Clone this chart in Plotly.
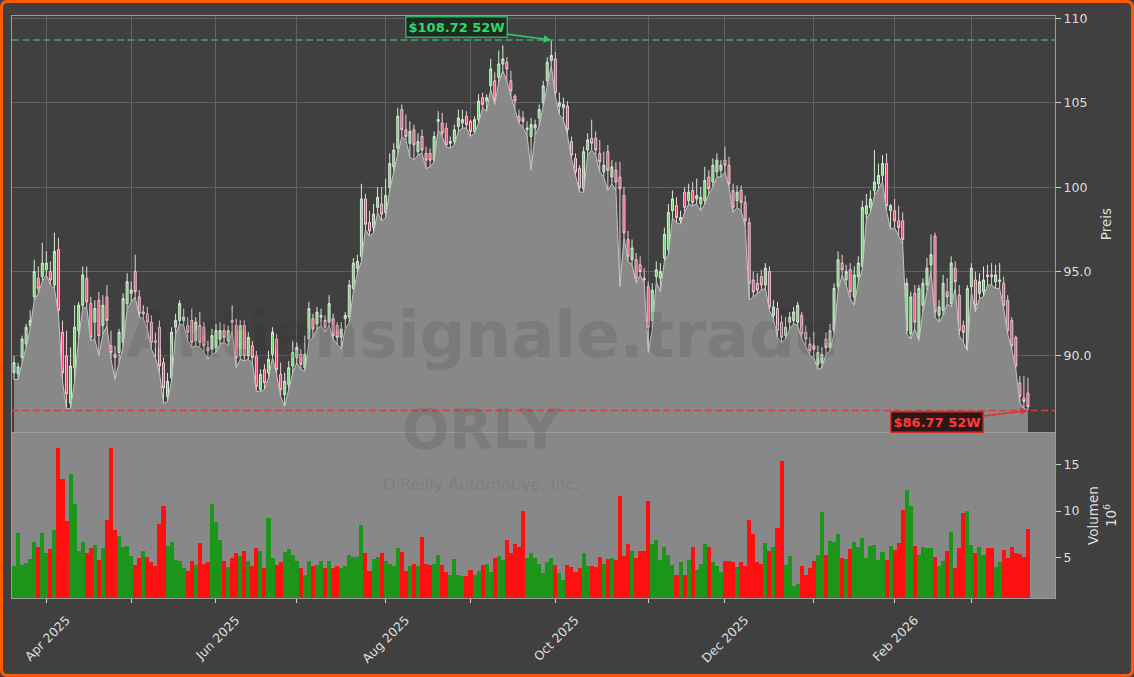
import pandas as pd
import plotly.graph_objects as go

# ---------------- data ----------------
holidays = ["2025-04-18", "2025-05-26", "2025-06-19", "2025-07-04", "2025-09-01",
            "2025-11-27", "2025-12-25", "2026-01-01", "2026-01-19", "2026-02-16"]
dates = [d.strftime("%Y-%m-%d") for d in pd.bdate_range("2025-03-20", "2026-03-20")
         if d.strftime("%Y-%m-%d") not in holidays]

open_ = [
    89.0, 88.95, 89.9, 90.7, 91.8, 93.5, 94.6, 94.7, 95.1, 95.0,
    94.2, 96.3, 91.4, 90.0, 87.2, 89.3, 91.5, 93.0, 94.6, 93.1,
    92.0, 93.3, 91.8, 93.5, 90.6, 90.1, 90.2, 90.8, 93.1, 93.7,
    95.0, 93.5, 92.5, 92.5, 92.0, 90.9, 91.7, 89.6, 87.6, 88.7,
    91.7, 92.1, 92.1, 91.8, 92.1, 90.9, 91.8, 91.7, 90.5, 90.4,
    90.5, 91.0, 91.5, 90.9, 92.1, 91.8, 90.0, 91.8, 90.0, 90.6,
    90.0, 88.0, 89.2, 89.0, 90.1, 91.0, 88.9, 87.7, 88.3, 89.4,
    89.9, 90.1, 89.3, 91.0, 92.2, 91.9, 92.3, 92.1, 92.0, 92.2,
    91.8, 91.1, 92.2, 92.3, 94.0, 95.2, 95.9, 99.3, 97.9, 97.6,
    98.8, 99.0, 98.5, 100.0, 101.2, 102.3, 104.6, 103.4, 102.6, 103.4,
    102.1, 103.0, 102.0, 102.0, 101.6, 103.9, 103.8, 103.5, 102.6, 102.7,
    103.6, 103.8, 104.2, 103.9, 103.3, 104.0, 105.3, 105.1, 106.0, 106.3,
    106.5, 107.3, 107.4, 106.3, 105.4, 104.2, 104.1, 103.4, 103.0, 103.5,
    104.1, 105.0, 106.3, 107.5, 107.6, 104.8, 104.7, 104.8, 102.7, 101.7,
    101.1, 99.9, 102.2, 102.9, 102.9, 102.0, 100.9, 102.1, 100.6, 101.0,
    100.6, 99.5, 96.9, 95.7, 95.7, 95.4, 94.6, 94.1, 92.1, 94.7,
    94.6, 95.8, 96.3, 98.6, 98.9, 98.0, 99.7, 99.2, 99.8, 99.3,
    99.0, 99.2, 100.6, 100.3, 100.9, 101.0, 101.6, 101.3, 99.8, 99.2,
    99.8, 99.1, 97.9, 94.5, 94.3, 94.7, 94.2, 95.0, 92.4, 92.8,
    92.0, 91.2, 92.0, 92.1, 92.0, 92.4, 91.4, 90.7, 90.6, 89.5,
    89.6, 91.0, 90.5, 91.5, 94.1, 95.5, 94.5, 95.1, 93.5, 94.7,
    95.3, 98.4, 98.8, 99.8, 100.2, 100.7, 101.4, 98.6, 98.6, 98.0,
    98.0, 91.5, 91.3, 93.7, 91.1, 93.0, 94.2, 95.4, 97.1, 92.4,
    92.7, 93.8, 93.1, 95.2, 93.6, 91.8, 90.4, 94.1, 94.5, 93.7,
    93.8, 94.8, 94.8, 94.4, 94.4, 94.3, 93.3, 92.1, 91.1, 88.4,
    87.5, 87.8]

high = [
    90.0, 89.6, 91.2, 91.9, 92.7, 95.7, 95.3, 96.7, 96.2, 95.6,
    97.3, 97.0, 92.1, 91.5, 90.5, 93.0, 93.2, 95.3, 95.3, 93.5,
    93.3, 93.8, 93.6, 94.2, 91.5, 90.6, 91.6, 93.7, 94.9, 94.4,
    96.0, 93.9, 93.0, 92.9, 92.4, 91.4, 92.1, 89.9, 89.0, 91.7,
    92.5, 93.3, 92.8, 92.3, 92.8, 92.3, 92.6, 92.0, 90.9, 91.6,
    91.9, 92.0, 91.9, 91.8, 93.0, 92.2, 92.1, 92.1, 91.4, 90.9,
    90.3, 89.2, 89.5, 90.3, 91.7, 91.3, 89.6, 89.0, 89.7, 90.9,
    90.8, 90.4, 91.2, 93.2, 92.5, 92.9, 92.8, 92.4, 93.6, 92.5,
    92.0, 92.0, 92.6, 94.5, 95.8, 96.0, 100.2, 99.6, 98.6, 99.0,
    100.0, 100.0, 100.5, 102.0, 102.6, 104.7, 104.9, 104.3, 103.9, 103.7,
    103.2, 103.4, 102.4, 102.3, 103.3, 104.5, 104.4, 103.8, 103.0, 103.7,
    104.6, 104.6, 104.5, 104.0, 104.2, 105.5, 105.6, 105.5, 107.6, 106.8,
    108.1, 108.4, 107.7, 106.9, 105.5, 104.6, 104.5, 103.9, 104.1, 104.0,
    104.9, 106.3, 107.7, 108.72, 108.0, 105.6, 105.3, 105.1, 103.0, 102.0,
    101.3, 102.4, 103.2, 104.0, 103.3, 102.8, 102.1, 102.5, 101.6, 101.5,
    101.5, 100.0, 97.4, 96.9, 96.1, 95.9, 95.2, 94.4, 94.3, 95.6,
    95.5, 97.6, 99.0, 99.8, 99.4, 98.6, 100.0, 100.2, 100.3, 100.5,
    100.0, 101.2, 101.0, 101.7, 102.0, 101.6, 102.4, 101.8, 100.2, 100.1,
    100.1, 99.5, 98.2, 95.0, 94.9, 95.1, 95.5, 95.3, 93.3, 93.2,
    92.4, 92.3, 92.6, 92.9, 93.2, 92.6, 91.8, 91.1, 91.4, 90.6,
    90.5, 91.4, 91.9, 94.3, 96.2, 96.0, 95.4, 95.5, 95.3, 95.9,
    99.2, 99.6, 99.8, 102.2, 101.4, 101.9, 102.0, 99.0, 99.3, 98.9,
    98.5, 94.6, 93.8, 94.2, 94.2, 94.6, 95.8, 97.2, 97.3, 93.3,
    94.8, 94.6, 95.9, 95.6, 94.2, 92.1, 94.2, 95.5, 95.0, 94.9,
    95.3, 95.4, 95.5, 95.4, 95.5, 94.7, 93.6, 92.3, 91.2, 88.8,
    88.8, 88.7]

low = [
    88.6, 88.6, 89.6, 90.5, 91.6, 93.3, 93.7, 94.4, 94.8, 94.2,
    94.0, 92.5, 88.5, 86.85, 86.9, 88.5, 91.0, 92.8, 92.9, 90.9,
    91.0, 90.0, 91.3, 91.8, 89.8, 88.6, 89.6, 90.5, 92.8, 93.2,
    93.5, 92.3, 92.2, 91.6, 90.4, 89.9, 89.0, 87.2, 87.3, 88.5,
    91.3, 91.9, 91.8, 90.9, 90.5, 90.6, 90.5, 90.2, 89.8, 90.1,
    90.2, 90.7, 90.8, 90.6, 91.5, 89.3, 89.8, 89.7, 89.8, 89.6,
    87.9, 87.9, 88.0, 88.7, 89.9, 88.9, 87.6, 87.0, 88.0, 89.0,
    89.6, 89.2, 89.1, 90.8, 91.1, 91.6, 91.8, 91.4, 91.8, 91.0,
    90.7, 90.4, 91.6, 92.0, 93.8, 94.9, 95.6, 97.5, 97.1, 97.3,
    98.5, 98.0, 98.2, 99.8, 100.9, 102.0, 103.0, 102.8, 101.8, 101.6,
    101.9, 102.0, 101.1, 101.2, 101.5, 103.4, 103.0, 102.4, 102.3, 102.5,
    103.3, 103.5, 103.5, 103.0, 103.2, 103.8, 104.7, 104.5, 105.8, 104.9,
    106.2, 106.9, 106.3, 105.4, 104.6, 103.8, 103.5, 103.1, 101.0, 103.1,
    103.6, 104.8, 106.0, 107.2, 105.4, 104.3, 104.0, 103.1, 101.7, 100.6,
    99.7, 99.7, 101.9, 102.2, 101.9, 100.9, 100.6, 99.8, 100.2, 99.8,
    94.1, 97.0, 95.6, 95.4, 94.3, 94.8, 94.3, 90.2, 91.6, 94.4,
    93.8, 95.6, 96.0, 98.2, 97.9, 97.8, 98.5, 99.0, 98.9, 99.0,
    98.6, 99.0, 99.6, 100.0, 100.6, 100.6, 100.9, 100.0, 98.5, 98.8,
    98.6, 97.7, 93.3, 93.5, 93.7, 93.9, 94.0, 92.7, 92.2, 91.1,
    90.8, 91.0, 91.6, 91.9, 91.8, 91.0, 90.6, 90.0, 89.9, 89.2,
    89.3, 90.1, 90.3, 91.3, 93.9, 94.8, 94.2, 93.4, 93.0, 94.4,
    95.1, 98.1, 98.5, 99.5, 99.9, 100.3, 98.6, 97.5, 97.6, 97.1,
    96.6, 91.3, 91.0, 91.6, 90.9, 92.6, 93.9, 95.0, 92.3, 92.0,
    92.4, 93.1, 92.9, 94.0, 91.2, 90.8, 90.3, 93.8, 92.6, 93.4,
    93.5, 94.2, 94.2, 94.0, 94.0, 92.8, 91.3, 90.4, 89.2, 87.2,
    86.9, 86.77]

close = [
    89.6, 89.35, 91.0, 91.7, 92.1, 95.0, 94.0, 95.5, 95.5, 94.5,
    96.2, 92.7, 89.0, 87.75, 89.4, 91.7, 93.0, 94.8, 93.2, 91.1,
    92.8, 91.2, 93.0, 92.1, 90.2, 89.9, 91.4, 93.4, 94.4, 93.9,
    93.8, 92.5, 92.6, 92.0, 90.8, 90.8, 89.4, 88.1, 88.5, 91.4,
    92.1, 93.1, 92.3, 91.4, 90.8, 92.0, 90.8, 90.6, 90.3, 91.2,
    91.5, 91.5, 91.1, 91.5, 92.0, 89.9, 91.8, 90.0, 91.1, 89.9,
    88.2, 88.9, 88.4, 89.8, 91.4, 89.2, 88.0, 88.5, 89.3, 90.2,
    90.5, 89.5, 90.1, 92.8, 91.6, 92.6, 92.4, 91.7, 93.1, 91.2,
    91.1, 91.6, 92.4, 94.2, 95.5, 95.6, 99.3, 97.8, 97.4, 98.4,
    99.4, 98.4, 99.5, 101.4, 102.2, 104.2, 103.4, 103.0, 103.3, 102.5,
    102.7, 102.2, 101.6, 101.6, 103.0, 104.0, 103.2, 102.5, 102.7, 103.4,
    104.1, 104.0, 103.7, 103.3, 104.0, 105.1, 104.9, 105.3, 107.0, 105.2,
    107.3, 107.6, 107.0, 105.7, 105.1, 103.9, 103.9, 103.5, 103.7, 103.7,
    104.6, 106.0, 107.4, 107.8, 105.6, 105.0, 104.9, 103.4, 101.9, 100.9,
    100.0, 102.1, 102.8, 102.6, 102.2, 101.5, 101.3, 101.0, 101.2, 100.3,
    99.9, 97.3, 95.9, 96.4, 94.6, 95.0, 94.5, 91.7, 93.9, 95.1,
    95.0, 97.2, 98.5, 99.3, 98.2, 98.2, 98.8, 99.7, 99.1, 99.5,
    99.4, 100.4, 99.9, 101.3, 101.6, 101.3, 101.3, 100.2, 98.8, 99.7,
    99.1, 98.0, 94.3, 93.8, 93.9, 94.2, 95.2, 92.9, 92.9, 91.5,
    91.1, 91.7, 92.3, 92.6, 93.0, 91.3, 91.0, 90.3, 90.4, 90.2,
    90.1, 90.5, 91.5, 94.0, 95.7, 95.1, 95.0, 93.8, 94.8, 95.5,
    98.8, 98.9, 99.3, 100.3, 100.7, 101.4, 98.9, 98.9, 98.0, 97.6,
    96.9, 94.3, 93.5, 92.0, 94.0, 94.3, 95.2, 96.0, 92.6, 92.9,
    94.3, 93.5, 95.5, 94.4, 91.5, 91.4, 94.0, 95.2, 93.0, 94.4,
    94.5, 94.7, 94.7, 94.8, 94.5, 93.0, 91.5, 90.6, 89.4, 87.6,
    87.3, 87.0]

volume = [  # millions
    4.1, 7.7, 4.2, 4.4, 4.9, 6.7, 6.1, 7.6, 5.5, 5.9,
    8.0, 16.7, 13.4, 8.9, 14.0, 10.7, 5.7, 6.7, 5.5, 6.0,
    6.4, 4.8, 6.0, 9.0, 16.7, 8.0, 7.3, 6.1, 6.3, 5.2,
    4.2, 5.0, 5.7, 5.1, 4.5, 4.1, 8.6, 10.5, 6.3, 6.7,
    4.8, 4.7, 3.9, 3.6, 4.6, 4.2, 6.6, 4.3, 4.5, 10.8,
    8.8, 6.9, 4.6, 4.0, 5.0, 5.5, 5.2, 5.7, 4.6, 4.1,
    6.0, 5.7, 3.9, 9.2, 5.0, 4.2, 4.5, 5.6, 5.9, 5.3,
    4.6, 3.9, 3.2, 4.6, 4.1, 4.2, 4.6, 3.9, 4.6, 3.9,
    4.1, 3.9, 4.1, 5.3, 5.1, 5.1, 8.5, 5.5, 3.6, 4.9,
    5.1, 5.5, 4.7, 4.3, 4.1, 6.0, 5.6, 3.6, 4.1, 4.3,
    4.1, 7.2, 4.3, 4.2, 4.3, 5.3, 4.2, 3.5, 3.1, 4.9,
    3.1, 3.0, 3.0, 3.7, 3.1, 3.6, 4.2, 4.3, 3.5, 5.0,
    5.2, 4.8, 6.9, 5.5, 6.5, 6.2, 10.0, 5.0, 5.5, 5.0,
    4.3, 3.4, 4.5, 5.0, 4.2, 3.4, 2.6, 4.2, 4.0, 3.5,
    3.9, 5.5, 4.1, 4.1, 4.0, 5.1, 4.3, 4.9, 5.0, 4.8,
    11.6, 5.2, 6.5, 5.7, 5.0, 5.7, 5.7, 11.1, 6.5, 6.9,
    4.8, 6.1, 5.3, 4.2, 3.2, 4.5, 3.2, 4.8, 6.1, 3.7,
    4.3, 6.5, 6.2, 4.5, 4.1, 3.5, 4.6, 4.7, 4.5, 4.0,
    4.5, 4.1, 9.0, 7.5, 4.5, 4.3, 6.6, 5.7, 6.1, 8.2,
    15.4, 4.2, 5.2, 2.0, 2.2, 4.1, 3.1, 3.9, 4.6, 5.3,
    9.9, 5.3, 6.8, 6.7, 7.5, 5.0, 4.9, 5.9, 6.7, 6.2,
    7.1, 5.0, 6.3, 6.4, 4.8, 5.6, 4.8, 6.3, 5.8, 6.6,
    10.1, 12.3, 10.5, 6.3, 5.3, 6.1, 6.0, 6.0, 5.1, 4.1,
    4.7, 5.7, 7.8, 3.9, 6.0, 9.8, 10.0, 6.4, 5.5, 6.1,
    5.3, 6.0, 6.0, 4.0, 4.5, 5.8, 5.0, 6.2, 5.5, 5.4,
    5.1, 8.1]

high_52w = 108.72
low_52w = 86.77
price_ticks = [90, 95, 100, 105, 110]
price_ticktext = ["90.0", "95.0", "100", "105", "110"]
vol_ticks = [5, 10, 15]
label_months = ["2025-04", "2025-06", "2025-08", "2025-10", "2025-12", "2026-02"]
label_text = ["Apr 2025", "Jun 2025", "Aug 2025", "Oct 2025", "Dec 2025", "Feb 2026"]

# first trading day of each month (Apr 2025 .. Mar 2026)
month_first = {}
for d in dates:
    month_first.setdefault(d[:7], d)
month_ticks = [v for k, v in month_first.items() if k != "2025-03"]
major_ticks = [month_first[m] for m in label_months]
minor_ticks = [t for t in month_ticks if t not in major_ticks]

vol_colors = ["#1b961b" if c >= o else "#ff1010" for o, c in zip(open_, close)]
i_high = high.index(max(high))
i_low = low.index(min(low))

# ---------------- figure ----------------
BG = "#404040"
GRID = "#616161"
FRAME = "#9c9c9c"
TXT = "#dedede"
FONT = "DejaVu Sans"

fig = go.Figure()
fig.add_trace(go.Scatter(
    x=dates, y=low, mode="lines", line=dict(color="#c4c4c4", width=1),
    fill="tozeroy", fillcolor="#888888", hoverinfo="skip",
    xaxis="x", yaxis="y"))
fig.add_trace(go.Candlestick(
    x=dates, open=open_, high=high, low=low, close=close,
    increasing=dict(line=dict(color="#d6ead6", width=1), fillcolor="#6fcf6f"),
    decreasing=dict(line=dict(color="#f0cbd5", width=1), fillcolor="#e8406a"),
    whiskerwidth=0, xaxis="x", yaxis="y"))
fig.add_trace(go.Bar(
    x=dates, y=volume, marker=dict(color=vol_colors, line=dict(width=0)),
    xaxis="x2", yaxis="y2", hoverinfo="skip"))

xr = [-0.5, 257.7]
fig.update_layout(
    width=1134, height=677,
    margin=dict(l=12, r=79, t=16, b=79),
    paper_bgcolor=BG, plot_bgcolor=BG,
    showlegend=False, hovermode=False, bargap=0,
    font=dict(family=FONT, color=TXT, size=12.5),
    xaxis=dict(type="category", domain=[0, 1], anchor="y", range=xr,
               tickmode="array", tickvals=month_ticks,
               showticklabels=False, ticks="", showgrid=True, gridcolor=GRID,
               gridwidth=1, showline=True, mirror=True, linecolor=FRAME,
               linewidth=1, zeroline=False, rangeslider=dict(visible=False),
               automargin=False),
    yaxis=dict(domain=[0.2852, 1], anchor="x", range=[85.49, 110.14], side="right",
               tickmode="array", tickvals=price_ticks, ticktext=price_ticktext,
               ticks="outside", ticklen=5, tickcolor="#cccccc",
               tickfont=dict(size=12.5, color=TXT),
               showgrid=True, gridcolor=GRID, showline=True, mirror=True,
               linecolor=FRAME, zeroline=False, automargin=False,
               title=dict(text="Preis", font=dict(size=13.5, color=TXT), standoff=11)),
    xaxis2=dict(type="category", domain=[0, 1], anchor="y2", range=xr,
                tickmode="array", tickvals=major_ticks, ticktext=label_text,
                tickangle=-45, ticks="outside", ticklen=4, tickcolor="#cccccc",
                tickfont=dict(size=12.5, color=TXT), ticklabelshift=20,
                ticklabelstandoff=5,
                minor=dict(tickvals=minor_ticks, ticks="outside", ticklen=4,
                           tickcolor="#cccccc", showgrid=False),
                showgrid=False, showline=True, mirror=True, linecolor=FRAME,
                zeroline=False, automargin=False),
    yaxis2=dict(domain=[0, 0.2835], anchor="x2", range=[0.69, 18.35], side="right",
                tickmode="array", tickvals=vol_ticks,
                ticks="outside", ticklen=5, tickcolor="#cccccc",
                tickfont=dict(size=12.5, color=TXT),
                showgrid=False, showline=True, mirror=True, linecolor=FRAME,
                zeroline=False, automargin=False,
                title=dict(text="Volumen<br>10<sup>6</sup>",
                           font=dict(size=13.5, color=TXT), standoff=10)),
)

# volume panel background
fig.add_shape(type="rect", xref="x2 domain", yref="y2 domain", x0=0, x1=1, y0=0, y1=1,
              fillcolor="#888888", line=dict(width=0), layer="below")

# 52W lines
fig.add_shape(type="line", xref="x domain", yref="y", x0=0, x1=1, y0=high_52w, y1=high_52w,
              line=dict(color="#3ca564", width=1.5, dash="7px,3.5px"))
fig.add_shape(type="line", xref="x domain", yref="y", x0=0, x1=1, y0=low_52w, y1=low_52w,
              line=dict(color="#d24040", width=1.5, dash="7px,3.5px"))

# watermarks
wm = "rgba(40,40,40,0.13)"
fig.add_annotation(xref="paper", yref="paper", x=0.4506, y=0.452, showarrow=False,
                   text="<b>Aktiensignale.trade</b>", font=dict(size=64, color=wm, family=FONT))
fig.add_annotation(xref="paper", yref="paper", x=0.4506, y=0.2311, showarrow=False,
                   text="<b>ORLY</b>", font=dict(size=56, color=wm, family=FONT))
fig.add_annotation(xref="paper", yref="paper", x=0.4506, y=0.1753, showarrow=False,
                   text="O'Reilly Automotive, Inc.", font=dict(size=16, color=wm, family=FONT))

# 52W annotations
fig.add_annotation(x=dates[i_high], y=high_52w, xref="x", yref="y",
                   text="<b>$%.2f 52W</b>" % high_52w, showarrow=True,
                   ax=-95, ay=-12.5, arrowhead=2, arrowsize=1, arrowwidth=1.5,
                   arrowcolor="#2ecc71", bgcolor="#1d2b21", bordercolor="#27ae60",
                   borderwidth=1.5, borderpad=2,
                   font=dict(size=13, color="#37d46f", family=FONT))
fig.add_annotation(x=dates[i_low], y=low_52w, xref="x", yref="y",
                   text="<b>$%.2f 52W</b>" % low_52w, showarrow=True,
                   ax=-91, ay=11.5, arrowhead=2, arrowsize=1, arrowwidth=1.5,
                   arrowcolor="#e03030", bgcolor="#2b1717", bordercolor="#d32f2f",
                   borderwidth=1.5, borderpad=2,
                   font=dict(size=13, color="#ff3b3b", family=FONT))

# orange rounded frame
x0, x1 = -0.01007, 1.07430
y0, y1 = -0.13316, 1.02491
rx, ry = 6 / 1043, 6 / 582
path = (f"M {x0+rx},{y1} L {x1-rx},{y1} Q {x1},{y1} {x1},{y1-ry} "
        f"L {x1},{y0+ry} Q {x1},{y0} {x1-rx},{y0} L {x0+rx},{y0} "
        f"Q {x0},{y0} {x0},{y0+ry} L {x0},{y1-ry} Q {x0},{y1} {x0+rx},{y1} Z")
fig.add_shape(type="path", xref="paper", yref="paper", path=path,
              line=dict(color="#ff5a00", width=3), layer="above")

fig.write_html("out.html", config={"displayModeBar": False},
               post_script="document.body.style.margin='0px';")
